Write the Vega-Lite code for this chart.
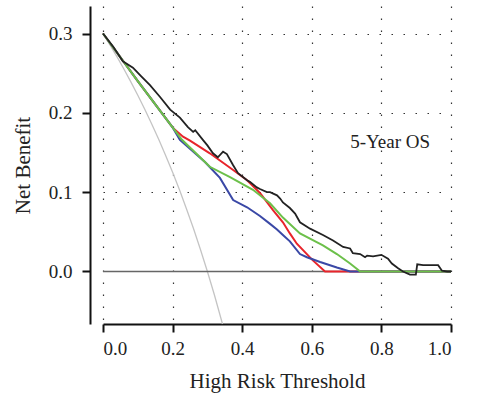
{
  "$schema": "https://vega.github.io/schema/vega-lite/v6.json",
  "width": 348,
  "height": 318,
  "autosize": "none",
  "padding": {"left": 103, "top": 6, "right": 33, "bottom": 88},
  "config": {
    "font": "Liberation Serif",
    "view": {"stroke": null},
    "axis": {
      "labelFont": "Liberation Serif",
      "titleFont": "Liberation Serif",
      "labelFontSize": 19,
      "titleFontSize": 21,
      "titleFontWeight": "normal",
      "labelColor": "#222",
      "titleColor": "#222",
      "tickColor": "#111",
      "domainColor": "#111",
      "tickSize": 8,
      "tickWidth": 2,
      "domainWidth": 2,
      "grid": true,
      "gridDash": [1.5, 10.5],
      "gridColor": "#333",
      "gridWidth": 1.2
    }
  },
  "datasets": {
    "curves": [
      {"model": "all", "x": 0, "y": 0.3},
      {"model": "all", "x": 0.02, "y": 0.2857},
      {"model": "all", "x": 0.04, "y": 0.2708},
      {"model": "all", "x": 0.06, "y": 0.2553},
      {"model": "all", "x": 0.08, "y": 0.2391},
      {"model": "all", "x": 0.1, "y": 0.2222},
      {"model": "all", "x": 0.12, "y": 0.2045},
      {"model": "all", "x": 0.14, "y": 0.186},
      {"model": "all", "x": 0.16, "y": 0.1667},
      {"model": "all", "x": 0.18, "y": 0.1463},
      {"model": "all", "x": 0.2, "y": 0.125},
      {"model": "all", "x": 0.22, "y": 0.1026},
      {"model": "all", "x": 0.24, "y": 0.0789},
      {"model": "all", "x": 0.26, "y": 0.0541},
      {"model": "all", "x": 0.28, "y": 0.0278},
      {"model": "all", "x": 0.3, "y": 0},
      {"model": "all", "x": 0.32, "y": -0.0294},
      {"model": "all", "x": 0.3434, "y": -0.0662},
      {"model": "none", "x": 0, "y": 0},
      {"model": "none", "x": 1, "y": 0},
      {"model": "red", "x": 0, "y": 0.3},
      {"model": "red", "x": 0.1, "y": 0.24},
      {"model": "red", "x": 0.201, "y": 0.181},
      {"model": "red", "x": 0.23, "y": 0.17},
      {"model": "red", "x": 0.25, "y": 0.165},
      {"model": "red", "x": 0.307, "y": 0.149},
      {"model": "red", "x": 0.374, "y": 0.128},
      {"model": "red", "x": 0.414, "y": 0.115},
      {"model": "red", "x": 0.451, "y": 0.099},
      {"model": "red", "x": 0.489, "y": 0.077},
      {"model": "red", "x": 0.517, "y": 0.062},
      {"model": "red", "x": 0.537, "y": 0.048},
      {"model": "red", "x": 0.557, "y": 0.035},
      {"model": "red", "x": 0.603, "y": 0.014},
      {"model": "red", "x": 0.638, "y": 0},
      {"model": "red", "x": 1, "y": 0},
      {"model": "blue", "x": 0, "y": 0.3},
      {"model": "blue", "x": 0.1, "y": 0.24},
      {"model": "blue", "x": 0.201, "y": 0.181},
      {"model": "blue", "x": 0.221, "y": 0.166},
      {"model": "blue", "x": 0.293, "y": 0.138},
      {"model": "blue", "x": 0.336, "y": 0.118},
      {"model": "blue", "x": 0.374, "y": 0.09},
      {"model": "blue", "x": 0.414, "y": 0.081},
      {"model": "blue", "x": 0.451, "y": 0.07},
      {"model": "blue", "x": 0.48, "y": 0.06},
      {"model": "blue", "x": 0.5, "y": 0.053},
      {"model": "blue", "x": 0.517, "y": 0.046},
      {"model": "blue", "x": 0.537, "y": 0.038},
      {"model": "blue", "x": 0.566, "y": 0.022},
      {"model": "blue", "x": 0.586, "y": 0.018},
      {"model": "blue", "x": 0.624, "y": 0.012},
      {"model": "blue", "x": 0.672, "y": 0.005},
      {"model": "blue", "x": 0.71, "y": 0},
      {"model": "blue", "x": 1, "y": 0},
      {"model": "green", "x": 0, "y": 0.3},
      {"model": "green", "x": 0.1, "y": 0.24},
      {"model": "green", "x": 0.201, "y": 0.181},
      {"model": "green", "x": 0.227, "y": 0.166},
      {"model": "green", "x": 0.293, "y": 0.138},
      {"model": "green", "x": 0.307, "y": 0.132},
      {"model": "green", "x": 0.365, "y": 0.119},
      {"model": "green", "x": 0.431, "y": 0.103},
      {"model": "green", "x": 0.48, "y": 0.086},
      {"model": "green", "x": 0.517, "y": 0.068},
      {"model": "green", "x": 0.566, "y": 0.048},
      {"model": "green", "x": 0.632, "y": 0.033},
      {"model": "green", "x": 0.672, "y": 0.022},
      {"model": "green", "x": 0.71, "y": 0.01},
      {"model": "green", "x": 0.739, "y": 0},
      {"model": "green", "x": 1, "y": 0},
      {"model": "black", "x": 0, "y": 0.3},
      {"model": "black", "x": 0.03, "y": 0.283},
      {"model": "black", "x": 0.057, "y": 0.265},
      {"model": "black", "x": 0.086, "y": 0.257},
      {"model": "black", "x": 0.11, "y": 0.246},
      {"model": "black", "x": 0.135, "y": 0.235},
      {"model": "black", "x": 0.164, "y": 0.22},
      {"model": "black", "x": 0.193, "y": 0.204},
      {"model": "black", "x": 0.221, "y": 0.194},
      {"model": "black", "x": 0.244, "y": 0.182},
      {"model": "black", "x": 0.259, "y": 0.176},
      {"model": "black", "x": 0.265, "y": 0.178},
      {"model": "black", "x": 0.287, "y": 0.166},
      {"model": "black", "x": 0.3, "y": 0.159},
      {"model": "black", "x": 0.316, "y": 0.149},
      {"model": "black", "x": 0.33, "y": 0.144},
      {"model": "black", "x": 0.345, "y": 0.151},
      {"model": "black", "x": 0.356, "y": 0.148},
      {"model": "black", "x": 0.374, "y": 0.134},
      {"model": "black", "x": 0.388, "y": 0.124},
      {"model": "black", "x": 0.414, "y": 0.115},
      {"model": "black", "x": 0.422, "y": 0.113},
      {"model": "black", "x": 0.442, "y": 0.106},
      {"model": "black", "x": 0.451, "y": 0.104},
      {"model": "black", "x": 0.471, "y": 0.1},
      {"model": "black", "x": 0.48, "y": 0.1},
      {"model": "black", "x": 0.5, "y": 0.096},
      {"model": "black", "x": 0.509, "y": 0.092},
      {"model": "black", "x": 0.517, "y": 0.087},
      {"model": "black", "x": 0.537, "y": 0.08},
      {"model": "black", "x": 0.552, "y": 0.073},
      {"model": "black", "x": 0.566, "y": 0.062},
      {"model": "black", "x": 0.595, "y": 0.054},
      {"model": "black", "x": 0.632, "y": 0.046},
      {"model": "black", "x": 0.661, "y": 0.039},
      {"model": "black", "x": 0.69, "y": 0.031},
      {"model": "black", "x": 0.71, "y": 0.029},
      {"model": "black", "x": 0.718, "y": 0.023},
      {"model": "black", "x": 0.739, "y": 0.022},
      {"model": "black", "x": 0.753, "y": 0.018},
      {"model": "black", "x": 0.759, "y": 0.02},
      {"model": "black", "x": 0.776, "y": 0.019},
      {"model": "black", "x": 0.8, "y": 0.021},
      {"model": "black", "x": 0.819, "y": 0.016},
      {"model": "black", "x": 0.83, "y": 0.01},
      {"model": "black", "x": 0.848, "y": 0.004},
      {"model": "black", "x": 0.862, "y": 0},
      {"model": "black", "x": 0.882, "y": -0.004},
      {"model": "black", "x": 0.899, "y": -0.004},
      {"model": "black", "x": 0.903, "y": 0.009},
      {"model": "black", "x": 0.92, "y": 0.008},
      {"model": "black", "x": 0.963, "y": 0.008},
      {"model": "black", "x": 0.974, "y": 0.001},
      {"model": "black", "x": 0.989, "y": 0},
      {"model": "black", "x": 1, "y": 0}
    ],
    "labels": [
      {"label": "5-Year OS"}
    ]
  },
  "layer": [
    {
      "data": {"name": "curves"},
      "encoding": {
        "x": {
          "field": "x", "type": "quantitative",
          "scale": {"domain": [0, 1], "nice": false, "zero": false},
          "axis": {"values": [0, 0.2, 0.4, 0.6, 0.8, 1], "format": ".1f", "title": "High Risk Threshold", "labelPadding": 7, "titlePadding": 12}
        },
        "y": {
          "field": "y", "type": "quantitative",
          "scale": {"domain": [-0.0662, 0.3347], "nice": false, "zero": false},
          "axis": {"values": [0, 0.1, 0.2, 0.3], "format": ".1f", "title": "Net Benefit", "offset": 13, "domain": true, "labelPadding": 10, "titlePadding": 15}
        }
      },
      "layer": [
        {"transform": [{"filter": "datum.model === 'all'"}], "mark": {"type": "line", "color": "#c4c4c4", "strokeWidth": 1.3}},
        {"transform": [{"filter": "datum.model === 'none'"}], "mark": {"type": "line", "color": "#666666", "strokeWidth": 1.6}},
        {"transform": [{"filter": "datum.model === 'red'"}], "mark": {"type": "line", "color": "#e8242b", "strokeWidth": 2}},
        {"transform": [{"filter": "datum.model === 'blue'"}], "mark": {"type": "line", "color": "#3a48a6", "strokeWidth": 2}},
        {"transform": [{"filter": "datum.model === 'green'"}], "mark": {"type": "line", "color": "#6cc04a", "strokeWidth": 2}},
        {"transform": [{"filter": "datum.model === 'black'"}], "mark": {"type": "line", "color": "#222222", "strokeWidth": 1.8}}
      ]
    },
    {
      "data": {"name": "labels"},
      "mark": {"type": "text", "font": "Liberation Serif", "fontSize": 19, "color": "#222", "align": "center", "baseline": "middle"},
      "encoding": {"x": {"datum": 0.825}, "y": {"datum": 0.163}, "text": {"field": "label"}}
    }
  ]
}
